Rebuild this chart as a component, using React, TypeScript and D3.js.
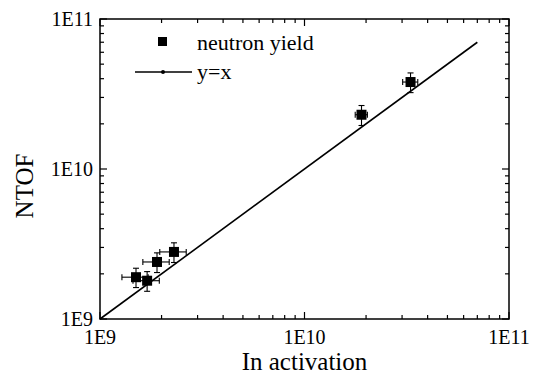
import React from 'react';
import * as d3 from 'd3';

const xValues = [1.5e9, 1.7e9, 1.9e9, 2.3e9, 1.9e10, 3.3e10];
const yValues = [1.9e9, 1.8e9, 2.4e9, 2.8e9, 2.3e10, 3.8e10];
const xErrors = [0.22e9, 0.25e9, 0.28e9, 0.34e9, 0.13e10, 0.28e10];
const yErrors = [0.28e9, 0.27e9, 0.36e9, 0.42e9, 0.35e10, 0.57e10];
const refLine = [1e9, 7e10];
const majorTicks = [1e9, 1e10, 1e11];
const tickLabels = ['1E9', '1E10', '1E11'];
const legendLabels = ['neutron yield', 'y=x'];

const W = 538, H = 377;
const L = 100, R = 509, T = 19, B = 319;
const FONT = "'Liberation Serif', serif";

export default function App() {
  const x = d3.scaleLog().domain([1e9, 1e11]).range([L, R]);
  const y = d3.scaleLog().domain([1e9, 1e11]).range([B, T]);
  const allTicks = x.ticks();
  const minor = allTicks.filter((t) => !majorTicks.some((m) => Math.abs(m - t) / m < 1e-6));
  const line = d3.line<number>().x((d) => x(d)).y((d) => y(d));
  const MAJ = 7, MIN = 4;
  const cap = 3;
  const ms = 10;
  const ts = (size: number) => ({ fontFamily: FONT, fontSize: size + 'px' });

  return (
    <svg width={W} height={H} style={{ position: 'absolute', left: 0, top: 0, background: '#fff' }}>
      <rect x={0} y={0} width={W} height={H} fill="#fff" />
      <g stroke="#000" strokeWidth={1.2}>
        {majorTicks.map((t, i) => (
          <g key={'M' + i}>
            <line x1={x(t)} x2={x(t)} y1={B} y2={B - MAJ} />
            <line x1={x(t)} x2={x(t)} y1={T} y2={T + MAJ} />
            <line x1={L} x2={L + MAJ} y1={y(t)} y2={y(t)} />
            <line x1={R} x2={R - MAJ} y1={y(t)} y2={y(t)} />
          </g>
        ))}
        {minor.map((t, i) => (
          <g key={'m' + i}>
            <line x1={x(t)} x2={x(t)} y1={B} y2={B - MIN} />
            <line x1={x(t)} x2={x(t)} y1={T} y2={T + MIN} />
            <line x1={L} x2={L + MIN} y1={y(t)} y2={y(t)} />
            <line x1={R} x2={R - MIN} y1={y(t)} y2={y(t)} />
          </g>
        ))}
      </g>
      <rect x={L} y={T} width={R - L} height={B - T} fill="none" stroke="#000" strokeWidth={1.5} />
      {majorTicks.map((t, i) => (
        <text key={'xl' + i} x={x(t)} y={B + 25} textAnchor="middle" style={ts(20)}>{tickLabels[i]}</text>
      ))}
      {majorTicks.map((t, i) => (
        <text key={'yl' + i} x={L - 7} y={y(t) + 7} textAnchor="end" style={ts(20)}>{tickLabels[i]}</text>
      ))}
      <text x={(L + R) / 2} y={370} textAnchor="middle" style={ts(25)}>In activation</text>
      <text transform={`translate(33,186) rotate(-90)`} textAnchor="middle" style={ts(25)}>NTOF</text>
      <path d={line(refLine) || ''} fill="none" stroke="#000" strokeWidth={1.6} />
      <g stroke="#000" strokeWidth={1.1}>
        {xValues.map((xv, i) => {
          const cx = x(xv), cy = y(yValues[i]);
          const x0 = x(xv - xErrors[i]), x1 = x(xv + xErrors[i]);
          const y0 = y(yValues[i] - yErrors[i]), y1 = y(yValues[i] + yErrors[i]);
          return (
            <g key={'e' + i}>
              <line x1={x0} x2={x1} y1={cy} y2={cy} />
              <line x1={x0} x2={x0} y1={cy - cap} y2={cy + cap} />
              <line x1={x1} x2={x1} y1={cy - cap} y2={cy + cap} />
              <line x1={cx} x2={cx} y1={y0} y2={y1} />
              <line x1={cx - cap} x2={cx + cap} y1={y0} y2={y0} />
              <line x1={cx - cap} x2={cx + cap} y1={y1} y2={y1} />
            </g>
          );
        })}
      </g>
      {xValues.map((xv, i) => (
        <rect key={'p' + i} x={x(xv) - ms / 2} y={y(yValues[i]) - ms / 2} width={ms} height={ms} fill="#000" />
      ))}
      <rect x={158} y={37} width={9} height={9} fill="#000" />
      <text x={197} y={50} style={ts(22)}>{legendLabels[0]}</text>
      <line x1={135} x2={192} y1={72} y2={72} stroke="#000" strokeWidth={1.5} />
      <circle cx={163} cy={72} r={2} fill="#000" />
      <text x={197} y={79} style={ts(22)}>{legendLabels[1]}</text>
    </svg>
  );
}
